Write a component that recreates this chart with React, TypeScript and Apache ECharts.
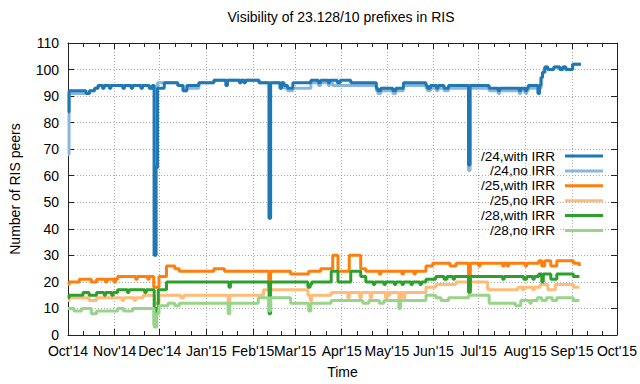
import React, { useEffect, useRef } from "react";
import * as echarts from "echarts";

// Day offsets from 1 Oct 2014, and number of RIS peers (change points of step series)
const seriesNames = ["/24,with IRR", "/24,no IRR", "/25,with IRR", "/25,no IRR", "/28,with IRR", "/28,no IRR"];
const monthNames = ["Jan", "Feb", "Mar", "Apr", "May", "Jun", "Jul", "Aug", "Sep", "Oct", "Nov", "Dec"];
const yTicks = [0, 10, 20, 30, 40, 50, 60, 70, 80, 90, 100, 110];

const p24With: [number, number][] = [
  [0, 84], [0.7, 92], [12, 91], [14.3, 92], [17.7, 93], [20, 94],
  [23, 93], [24, 94], [27.5, 93], [28.5, 94], [36.5, 93], [37.5, 94], [42, 93], [43, 94], [48.5, 93], [49.5, 94], [54, 93], [56, 94],
  [57.3, 30], [58.5, 63], [59.5, 93], [64, 95], [73, 94], [76.5, 92], [79, 94], [87, 95], [97, 96], [105, 94], [106, 96],
  [114, 95], [115, 96], [117, 95], [118, 96], [127, 95],
  [133.7, 44], [134.7, 95], [141, 93], [142, 95], [143.6, 94], [146, 93], [149.5, 95], [161.5, 96], [166.5, 95], [168, 96],
  [173, 95], [174, 96], [179, 95], [181, 96], [188, 95], [205, 93], [206, 92], [208, 93], [216, 92], [218, 93], [223, 95],
  [238, 94], [239, 93], [241, 94], [245, 93], [246, 94], [250, 93], [253, 94],
  [266.3, 64], [267.3, 94], [280, 93], [286, 92], [287, 93], [300, 92], [301, 93], [304, 92], [305, 93], [306, 94],
  [312.5, 91], [313.5, 94], [314.5, 97], [315.5, 99], [317, 101], [319, 100], [323, 101], [327, 100], [329, 101], [331, 100],
  [335.5, 102], [341, 102],
];

const p24No: [number, number][] = [
  [0, 68], [0.7, 91], [12, 91], [14.3, 92], [17.7, 93], [20, 94],
  [23, 93], [24, 94], [27.5, 93], [28.5, 94], [36.5, 93], [37.5, 94], [42, 93], [43, 94], [48.5, 93], [49.5, 94], [54, 93], [56, 94],
  [57.3, 30], [58.5, 63], [59.5, 95], [73, 94], [76.5, 92], [79, 93], [87, 95], [97, 96], [105, 94], [106, 96],
  [114, 95], [115, 96], [117, 95], [118, 96], [127, 95],
  [133.7, 44], [134.7, 95], [141, 93], [142, 95], [143.6, 93], [146, 92], [149.5, 93], [161.5, 95], [166.5, 94], [168, 95],
  [173, 94], [174, 95], [176, 94], [205, 92], [206, 91], [208, 92], [216, 91], [218, 92], [223, 94],
  [238, 93], [239, 92], [241, 93], [245, 92], [246, 93], [250, 92], [253, 93],
  [266.3, 62], [267.3, 93], [280, 92], [286, 91], [287, 92], [300, 91], [301, 92], [304, 91], [305, 92], [306, 93],
  [312.5, 91], [313.5, 93], [314.5, 97], [315.5, 99], [317, 101], [319, 100], [323, 101], [327, 100], [329, 101], [331, 100],
  [335.5, 102], [341, 102],
];

const p25With: [number, number][] = [
  [0, 19], [0.7, 20], [7.5, 21], [15.5, 20], [19, 21], [25, 20], [26, 21], [30.5, 20], [31.5, 21], [33, 22],
  [45, 21], [46, 22], [53, 21], [54, 22], [57, 18], [60.5, 22], [65.5, 26], [71, 25], [74, 24], [97, 25], [104, 24],
  [133.5, 18], [134.7, 24], [148, 23], [160, 24], [168, 25], [176, 30], [179.5, 24], [187, 30], [194.6, 25], [198, 24],
  [207, 23], [208, 24], [222, 23], [223, 24], [230, 23], [231, 24], [238, 26], [242.5, 27], [254, 26], [258, 27],
  [266.3, 17], [267.5, 27], [273, 26], [274, 27], [289, 26], [290, 27], [292, 26], [293, 27], [304, 26], [305, 27],
  [313, 28], [315, 26], [317, 28], [321, 26], [325, 28], [336, 27], [340, 26],
];

const p25No: [number, number][] = [
  [0, 13], [0.7, 14], [14, 13], [19, 14], [36, 13], [37, 14], [44, 13], [45, 14], [50, 15], [57.5, 12], [60.5, 15],
  [75, 14], [77, 15], [106.5, 11], [107.5, 15], [130, 17], [159.5, 15], [161, 13], [162, 15], [175, 16],
  [186, 14], [187, 16], [194, 14], [195, 16], [201, 14], [202, 16], [211, 14], [212, 16], [213, 15], [214, 16],
  [220, 13], [221, 16], [223, 14], [224, 16], [238, 18], [244.5, 19], [258, 20], [279, 17], [299, 18],
  [302, 17], [303, 18], [309, 17], [310, 18], [314, 19], [319, 17], [324, 19], [336, 18], [340, 18],
];

const p28With: [number, number][] = [
  [0, 14], [0.7, 15], [10, 16], [14, 15], [19, 16], [24, 15], [25, 16], [29, 15], [30, 16], [33, 17],
  [39.5, 16], [40.5, 17], [51, 16], [52, 17], [57.3, 4], [58.5, 10], [60, 17], [65.5, 20], [107, 18], [108, 20],
  [133.7, 8], [134.7, 20], [159.5, 18], [161, 19], [162, 20], [175, 24], [179.5, 20], [188, 24], [194.6, 22], [198, 20],
  [203, 19], [204, 20], [210, 19], [211, 20], [217, 19], [218, 20], [222, 19], [223, 20], [228, 19], [229, 20], [234, 19], [235, 20],
  [238, 21], [244.5, 22], [250, 21], [252, 22], [256, 21], [257, 22], [266.3, 16], [267.5, 22],
  [289, 21], [290, 22], [303, 21], [305, 22], [309, 21], [310, 22], [313, 23], [315, 20], [316, 23], [321, 21], [325, 23],
  [336, 22], [340, 22],
];

const p28No: [number, number][] = [
  [0, 10], [4, 9], [9, 10], [15.5, 8], [19, 9], [33, 10], [37, 9], [43, 10], [57.3, 3], [59, 8], [60.5, 11], [66.5, 12],
  [71, 11], [74, 12], [106.5, 8], [107.5, 12], [126.5, 14], [133.7, 9], [134.7, 14], [148, 12], [160, 9], [161.5, 12],
  [175, 13], [196, 12], [200, 13], [207, 12], [210, 13], [220, 10], [221, 13], [238, 15], [244.5, 14], [248, 13], [253, 14],
  [266.3, 15], [280, 12], [297.5, 11], [301, 13], [307, 12], [308, 13], [312, 14], [315, 13], [318, 14], [322, 13], [325, 14],
  [336, 13], [340, 13],
];

const colors = ["#1f77b4", "#8ab6dc", "#ff7f0e", "#ffbb78", "#2ca02c", "#98d48a"];
const FONT = "Liberation Sans";
const DAY = 86400000;
const START = new Date(2014, 9, 1).getTime();
const END = new Date(2015, 9, 1).getTime();

const toTime = (pts: [number, number][]) => pts.map(([d, v]) => [START + d * DAY, v]);

export default function App() {
  const ref = useRef<HTMLDivElement>(null);
  useEffect(() => {
    if (!ref.current) return;
    const chart = echarts.init(ref.current, undefined, { renderer: "svg" });
    const grid = "#aaaaaa";
    const fmt = (val: number) => {
      const d = new Date(val);
      return monthNames[d.getMonth()] + "'" + String(d.getFullYear()).slice(2);
    };
    const xBase = {
      type: "time" as const,
      min: START,
      max: END,
      minInterval: 28 * DAY,
      maxInterval: 31 * DAY,
      axisLine: { onZero: false, lineStyle: { color: "#222", width: 1 } },
      axisTick: { inside: true, length: 6, lineStyle: { color: "#222" } },
      minorTick: { show: true, splitNumber: 3, length: 4, lineStyle: { color: "#222" } },
    };
    const yBase = {
      type: "value" as const,
      min: yTicks[0],
      max: yTicks[yTicks.length - 1],
      interval: 10,
      axisLine: { show: true, onZero: false, lineStyle: { color: "#222", width: 1 } },
      axisTick: { show: true, inside: true, length: 6, lineStyle: { color: "#222" } },
    };
    const data = [p24With, p24No, p25With, p25No, p28With, p28No];
    const order = [1, 0, 2, 3, 4, 5];
    chart.setOption({
      animation: false,
      textStyle: { fontFamily: FONT },
      title: {
        text: "Visibility of 23.128/10 prefixes in RIS",
        left: 341,
        top: 10,
        padding: 0,
        textAlign: "center",
        textStyle: { fontFamily: FONT, fontSize: 14, fontWeight: "normal", color: "#000" },
      },
      grid: { left: 66, right: 23, top: 43, bottom: 47, containLabel: false },
      legend: {
        data: seriesNames,
        orient: "vertical",
        right: 37,
        top: 149,
        padding: 0,
        align: "right",
        icon: "rect",
        itemWidth: 38,
        itemHeight: 3,
        itemGap: 0.9,
        textStyle: { fontFamily: FONT, fontSize: 13.6, lineHeight: 13.3, color: "#000", padding: [0, 5, 0, 0] },
      },
      xAxis: [
        {
          ...xBase,
          position: "bottom",
          name: "Time",
          nameLocation: "middle",
          nameGap: 30,
          nameTextStyle: { fontFamily: FONT, fontSize: 14, color: "#000" },
          axisLabel: {
            formatter: fmt,
            fontFamily: FONT,
            fontSize: 14,
            color: "#000",
            margin: 9,
            showMinLabel: true,
            showMaxLabel: true,
            hideOverlap: false,
          },
          splitLine: { show: true, lineStyle: { color: grid, type: [1, 2], width: 1 } },
        },
        {
          ...xBase,
          position: "top",
          axisLabel: { show: false },
          splitLine: { show: false },
        },
      ],
      yAxis: [
        {
          ...yBase,
          position: "left",
          name: "Number of RIS peers",
          nameLocation: "middle",
          nameGap: 46,
          nameTextStyle: { fontFamily: FONT, fontSize: 14, color: "#000" },
          axisLabel: { fontFamily: FONT, fontSize: 14, color: "#000", margin: 9 },
          splitLine: { show: true, lineStyle: { color: grid, type: [1, 2], width: 1 } },
        },
        {
          ...yBase,
          position: "right",
          axisLabel: { show: false },
          splitLine: { show: false },
        },
      ],
      series: order.map((i, k) => ({
        name: seriesNames[i],
        type: "line",
        step: "end",
        symbol: "none",
        xAxisIndex: 0,
        yAxisIndex: 0,
        data: toTime(data[i]),
        lineStyle: { width: 3, color: colors[i] },
        itemStyle: { color: colors[i] },
        z: 2 + k,
      })),
    });
    return () => chart.dispose();
  }, []);
  return (
    <div
      ref={ref}
      style={{ position: "absolute", left: 0, top: 0, width: 640, height: 384 }}
    />
  );
}
